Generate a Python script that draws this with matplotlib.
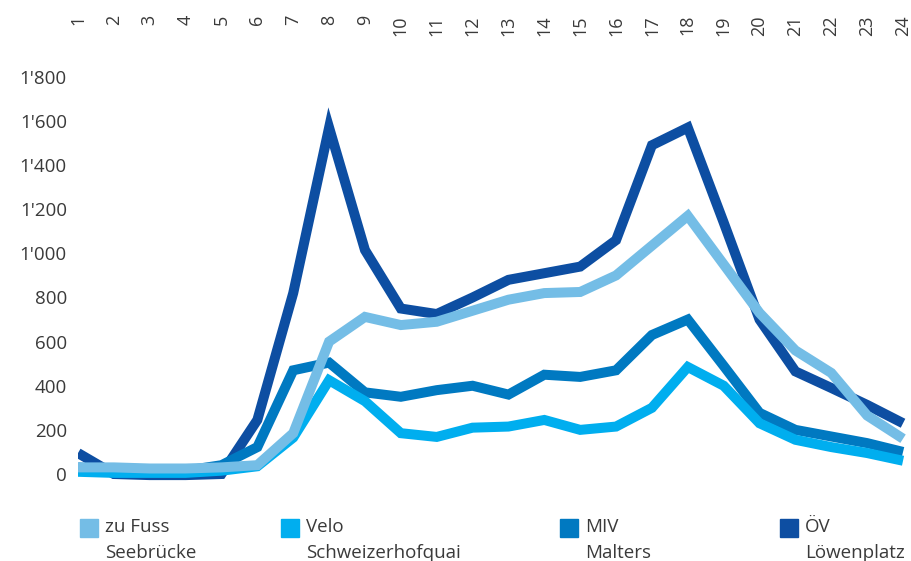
import matplotlib.pyplot as plt
from matplotlib.patches import Rectangle
from matplotlib.ticker import FuncFormatter

# Stunden
hours = list(range(1, 25))

# Werte je Verkehrsmittel
fuss = [30, 30, 25, 25, 30, 40, 185, 600, 712, 675, 690, 740, 790, 820, 825, 900,
        1035, 1170, 950, 730, 560, 458, 265, 160]
velo = [10, 5, 5, 5, 15, 35, 165, 425, 330, 185, 168, 210, 215, 245, 200, 215,
        300, 485, 400, 230, 155, 122, 95, 60]
miv = [30, 20, 15, 15, 40, 122, 470, 505, 370, 350, 380, 400, 360, 450, 440, 470,
       630, 700, 490, 277, 200, 170, 140, 100]
oev = [95, 0, -5, -5, 0, 245, 820, 1570, 1015, 750, 725, 800, 880, 910, 940, 1060,
       1490, 1570, 1140, 700, 465, 390, 313, 230]

labels = ['zu Fuss\nSeebrücke', 'Velo\nSchweizerhofquai', 'MIV\nMalters', 'ÖV\nLöwenplatz']
colors = ['#74bde6', '#00aeef', '#0079c1', '#0d4ea2']
series = [fuss, velo, miv, oev]

plt.rcParams['font.family'] = ['Open Sans', 'DejaVu Sans']
text_col = '#3a3a3a'

fig = plt.figure(figsize=(9.12, 5.61), dpi=100)
W, H = 912, 561
ax = fig.add_axes([78 / W, (H - 490) / H, (912 - 78) / W, (490 - 40) / H])

# ÖV zuerst, zu Fuss obenauf
for vals, c in reversed(list(zip(series, colors))):
    ax.plot(hours, vals, color=c, lw=7.2, solid_joinstyle='miter', solid_capstyle='butt')

ax.set_xlim(1, 24.25)
ax.set_ylim(-72.5, 1967)
ax.set_yticks(range(0, 1801, 200))
ax.yaxis.set_major_formatter(FuncFormatter(lambda v, p: f'{int(v):,}'.replace(',', "'")))
ax.set_xticks(hours)
ax.xaxis.tick_top()
ax.tick_params(axis='x', length=0, pad=18, labelsize=13, labelcolor=text_col, labelrotation=90)
ax.tick_params(axis='y', length=0, pad=8, labelsize=13.5, labelcolor=text_col)
plt.setp(ax.get_xticklabels(), va='top')
for s in ax.spines.values():
    s.set_visible(False)

# Legende von Hand
leg_x = [80, 281, 560, 780]
for x, lab, c in zip(leg_x, labels, colors):
    fig.patches.append(Rectangle((x / W, (H - 537) / H), 18 / W, 18 / H,
                                 transform=fig.transFigure, color=c))
    fig.text((x + 25) / W, (H - 518) / H, lab, ha='left', va='top',
             fontsize=13.5, color=text_col, linespacing=1.55)

fig.savefig('out.png', dpi=100)
